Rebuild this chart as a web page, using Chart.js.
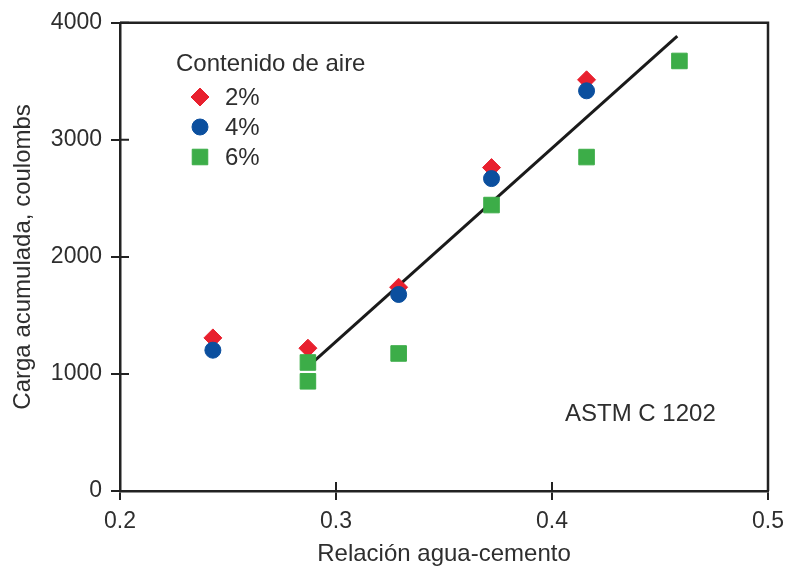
<!DOCTYPE html>
<html>
<head>
<meta charset="utf-8">
<script src="https://cdn.jsdelivr.net/npm/chart.js@4/dist/chart.umd.min.js"></script>
<style>
  html, body { margin: 0; padding: 0; background: #fff; }
  #wrap { width: 785px; height: 576px; }
</style>
</head>
<body>
<div id="wrap"><canvas id="chargeChart"></canvas></div>
<script>
//Data
const air2X = [0.243, 0.287, 0.329, 0.372, 0.416];
const air2Y = [1308, 1220, 1741, 2763, 3513];
const air4X = [0.243, 0.329, 0.372, 0.416];
const air4Y = [1203, 1679, 2669, 3419];
const air6X = [0.287, 0.287, 0.329, 0.372, 0.416, 0.459];
const air6Y = [1098, 937, 1175, 2443, 2853, 3674];
const fitX = [0.290, 0.458];
const fitY = [1112, 3887];

const seriesLabels = ['2%', '4%', '6%'];
const xTicks = [0.2, 0.3, 0.4, 0.5];
const yTicks = [0, 1000, 2000, 3000, 4000];

const textColor = '#2e2e2e';
const axisColor = '#222';
const fontFamily = '"Liberation Sans", Arial, sans-serif';

const toPoints = (xs, ys) => xs.map((x, i) => ({ x: x, y: ys[i] }));

//Ticks that cross the axes + top/right frame + note text
const framePlugin = {
    id: 'frame',
    afterDraw(chart) {
        const ctx = chart.ctx;
        const area = chart.chartArea;
        const xs = chart.scales.x;
        const ys = chart.scales.y;
        ctx.save();
        ctx.strokeStyle = axisColor;
        ctx.lineWidth = 2.5;
        ctx.beginPath();
        ctx.moveTo(area.left, area.top);
        ctx.lineTo(area.right, area.top);
        ctx.lineTo(area.right, area.bottom);
        ctx.stroke();

        ctx.lineWidth = 2;
        ctx.beginPath();
        xTicks.forEach(v => {
            const px = xs.getPixelForValue(v);
            ctx.moveTo(px, area.bottom);
            ctx.lineTo(px, area.bottom - 9);
        });
        yTicks.forEach(v => {
            const py = ys.getPixelForValue(v);
            ctx.moveTo(area.left, py);
            ctx.lineTo(area.left + 9, py);
        });
        ctx.stroke();

        ctx.fillStyle = textColor;
        ctx.font = '24px ' + fontFamily;
        ctx.textBaseline = 'middle';
        ctx.textAlign = 'left';
        ctx.fillText('ASTM C 1202', 565, 414);
        ctx.restore();
    }
};

//Legend inside the plot
const legendPlugin = {
    id: 'innerLegend',
    afterDraw(chart) {
        const ctx = chart.ctx;
        ctx.save();
        ctx.fillStyle = textColor;
        ctx.font = '24px ' + fontFamily;
        ctx.textBaseline = 'middle';
        ctx.textAlign = 'left';
        ctx.fillText('Contenido de aire', 176, 64);

        seriesLabels.forEach((lab, i) => {
            const ds = chart.data.datasets[i];
            const y = 97 + i * 30;
            ctx.fillStyle = ds.backgroundColor;
            ctx.strokeStyle = ds.backgroundColor;
            ctx.lineWidth = 1;
            Chart.helpers.drawPoint(ctx, {
                pointStyle: ds.pointStyle,
                radius: ds.pointRadius,
                rotation: 0,
                borderWidth: 1
            }, 200, y);
            ctx.fillStyle = textColor;
            ctx.fillText(lab, 225, y + 1);
        });
        ctx.restore();
    }
};

const chargeData = {
    datasets: [
        {
            label: seriesLabels[0],
            data: toPoints(air2X, air2Y),
            pointStyle: 'rectRot',
            pointRadius: 9,
            backgroundColor: '#e8202e',
            borderColor: '#e8202e',
            borderWidth: 1,
            order: 3
        },
        {
            label: seriesLabels[1],
            data: toPoints(air4X, air4Y),
            pointStyle: 'circle',
            pointRadius: 8,
            backgroundColor: '#0b4f9e',
            borderColor: '#0b4f9e',
            borderWidth: 1,
            order: 2
        },
        {
            label: seriesLabels[2],
            data: toPoints(air6X, air6Y),
            pointStyle: 'rect',
            pointRadius: 11,
            backgroundColor: '#3cad48',
            borderColor: '#3cad48',
            borderWidth: 1,
            order: 1
        },
        {
            label: 'fit',
            type: 'line',
            data: toPoints(fitX, fitY),
            showLine: true,
            borderColor: '#1a1a1a',
            borderWidth: 3,
            pointRadius: 0,
            fill: false,
            order: 4
        }
    ]
};

const chargeOptions = {
    responsive: true,
    maintainAspectRatio: false,
    animation: false,
    layout: {
        padding: { top: 20, right: 0, left: 0, bottom: 0 }
    },
    scales: {
        x: {
            type: 'linear',
            min: 0.2,
            max: 0.5,
            afterFit: scale => { scale.height = 85; scale.paddingRight = 17; },
            afterBuildTicks: scale => { scale.ticks = xTicks.map(v => ({ value: v })); },
            ticks: {
                color: textColor,
                font: { size: 23, family: fontFamily },
                padding: 8,
                maxRotation: 0,
                callback: v => v.toFixed(1)
            },
            grid: {
                drawOnChartArea: false,
                tickLength: 9,
                color: axisColor,
                lineWidth: 2
            },
            border: { color: axisColor, width: 2.5 },
            title: {
                display: true,
                text: 'Relación agua-cemento',
                color: textColor,
                font: { size: 24, family: fontFamily },
                padding: { top: 0, bottom: 7 }
            }
        },
        y: {
            min: 0,
            max: 4000,
            afterFit: scale => { scale.width = 120; },
            afterBuildTicks: scale => { scale.ticks = yTicks.map(v => ({ value: v })); },
            ticks: {
                color: textColor,
                font: { size: 23, family: fontFamily },
                padding: 9,
                callback: v => String(v)
            },
            grid: {
                drawOnChartArea: false,
                tickLength: 9,
                color: axisColor,
                lineWidth: 2
            },
            border: { color: axisColor, width: 2.5 },
            title: {
                display: true,
                text: 'Carga acumulada, coulombs',
                color: textColor,
                font: { size: 24, family: fontFamily },
                padding: { top: 9, bottom: 0 }
            }
        }
    },
    plugins: {
        legend: { display: false },
        tooltip: { enabled: false }
    }
};

let chargeChart = new Chart(document.getElementById('chargeChart'), {
    type: 'scatter',
    data: chargeData,
    options: chargeOptions,
    plugins: [framePlugin, legendPlugin]
});
</script>
</body>
</html>
